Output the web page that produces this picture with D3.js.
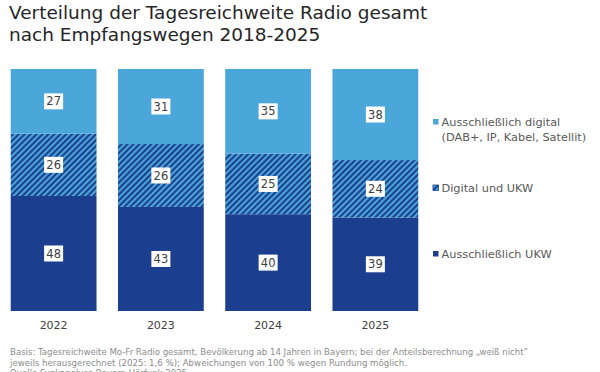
<!DOCTYPE html>
<html>
<head>
<meta charset="utf-8">
<title>Empfangswege Radio</title>
<script src="https://cdn.jsdelivr.net/npm/d3@7"></script>
<style>
  body { margin: 0; background: #fff; }
  svg { display: block; font-family: "DejaVu Sans", Verdana, sans-serif; }
</style>
</head>
<body>
<div id="chart"></div>
<script>
// data
var years = ["2022", "2023", "2024", "2025"];
var nurDigital = [27, 31, 35, 38];
var digitalUndUkw = [26, 26, 25, 24];
var nurUkw = [48, 43, 40, 39];

var seriesKeys = ["ukw", "beide", "digital"];
var legendLines = [
  ["Ausschließlich digital", "(DAB+, IP, Kabel, Satellit)"],
  ["Digital und UKW"],
  ["Ausschließlich UKW"]
];
var titleLines = ["Verteilung der Tagesreichweite Radio gesamt", "nach Empfangswegen 2018-2025"];
var footLines = [
  "Basis: Tagesreichweite Mo-Fr Radio gesamt, Bevölkerung ab 14 Jahren in Bayern; bei der Anteilsberechnung \u201eweiß nicht\u201d",
  "jeweils herausgerechnet (2025: 1,6 %); Abweichungen von 100 % wegen Rundung möglich.",
  "Quelle Funkanalyse Bayern Hörfunk 2025"
];

var W = 600, H = 372;
var light = "#4ba6d9", navy = "#1b3f8e";

var svg = d3.select("#chart").append("svg")
  .attr("width", W).attr("height", H);

// hatch pattern for "Digital und UKW"
var defs = svg.append("defs");
var pat = defs.append("pattern")
  .attr("id", "hatch")
  .attr("patternUnits", "userSpaceOnUse")
  .attr("width", 4.2).attr("height", 4.2)
  .attr("patternTransform", "rotate(45)");
pat.append("rect").attr("width", 4.2).attr("height", 4.2).attr("fill", navy);
pat.append("rect").attr("width", 2.1).attr("height", 4.2).attr("fill", light);

// title
svg.append("g").selectAll("text")
  .data(titleLines).enter().append("text")
  .attr("x", 9)
  .attr("y", function(d, i) { return 19 + i * 22; })
  .attr("font-size", 18.5)
  .attr("fill", "#262626")
  .text(function(d) { return d; });

var data = years.map(function(y, i) {
  return { year: y, ukw: nurUkw[i], beide: digitalUndUkw[i], digital: nurDigital[i] };
});

var stacked = d3.stack().keys(seriesKeys).offset(d3.stackOffsetExpand)(data);

var x = d3.scaleBand().domain(years).range([0, 429]).paddingInner(0.2).paddingOuter(0.1);
var y = d3.scaleLinear().domain([0, 1]).range([311, 69]);

var fills = { ukw: navy, beide: "url(#hatch)", digital: light };

var layers = svg.append("g").selectAll("g")
  .data(stacked).enter().append("g")
  .attr("fill", function(d) { return fills[d.key]; });

layers.selectAll("rect")
  .data(function(d) { return d; }).enter().append("rect")
  .attr("x", function(d) { return x(d.data.year); })
  .attr("width", x.bandwidth())
  .attr("y", function(d) { return y(d[1]); })
  .attr("height", function(d) { return y(d[0]) - y(d[1]); });

// value labels in white boxes
stacked.forEach(function(layer) {
  layer.forEach(function(d) {
    var cx = x(d.data.year) + x.bandwidth() / 2;
    var cy = (y(d[0]) + y(d[1])) / 2;
    var g = svg.append("g").attr("transform", "translate(" + cx + "," + cy + ")");
    g.append("rect").attr("x", -9.5).attr("y", -8).attr("width", 19).attr("height", 16).attr("fill", "#fff");
    g.append("text").attr("text-anchor", "middle").attr("dy", "0.36em")
      .attr("font-size", 11.5).attr("fill", "#404040")
      .text(d.data[layer.key]);
  });
});

// x axis labels
var xAxis = svg.append("g")
  .attr("transform", "translate(0,311)")
  .call(d3.axisBottom(x).tickSize(0).tickPadding(10));
xAxis.select(".domain").remove();
xAxis.selectAll("text")
  .attr("font-family", "DejaVu Sans, Verdana, sans-serif")
  .attr("font-size", 11)
  .attr("fill", "#404040");

// legend, top to bottom: digital, beide, ukw
var legendKeys = ["digital", "beide", "ukw"];
var legendY = [126, 192, 258];
var leg = svg.append("g").selectAll("g")
  .data(legendKeys).enter().append("g")
  .attr("transform", function(d, i) { return "translate(433," + legendY[i] + ")"; });
leg.append("rect")
  .attr("x", 0).attr("y", -7).attr("width", 5.5).attr("height", 5.5)
  .attr("fill", function(d) { return fills[d]; })
  .attr("stroke", function(d) { return d === "beide" ? navy : "none"; })
  .attr("stroke-width", 0.8);
leg.each(function(d, i) {
  d3.select(this).selectAll("text")
    .data(legendLines[i]).enter().append("text")
    .attr("x", 8.5)
    .attr("y", function(t, j) { return j * 15; })
    .attr("font-size", 11.3)
    .attr("fill", "#595959")
    .text(function(t) { return t; });
});

// footnote (last line runs off the bottom edge, as in the original)
var footWidths = [518, 397, 177];
svg.append("g").selectAll("text")
  .data(footLines).enter().append("text")
  .attr("x", 10)
  .attr("y", function(d, i) { return 355 + i * 10.5; })
  .attr("font-size", 9)
  .attr("fill", "#8c8c8c")
  .attr("textLength", function(d, i) { return footWidths[i]; })
  .attr("lengthAdjust", "spacingAndGlyphs")
  .text(function(d) { return d; });
</script>
</body>
</html>
